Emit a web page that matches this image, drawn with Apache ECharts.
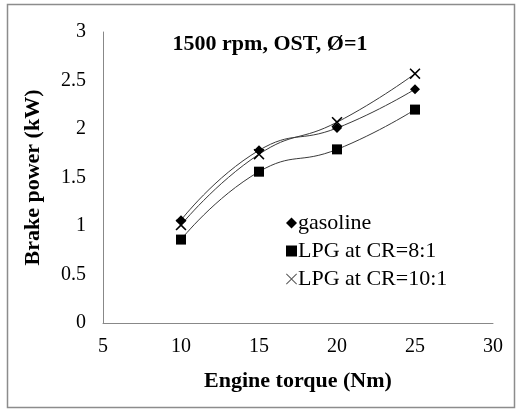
<!DOCTYPE html>
<html>
<head>
<meta charset="utf-8">
<script src="https://cdn.jsdelivr.net/npm/echarts@6/dist/echarts.min.js"></script>
<style>html,body{margin:0;padding:0;background:#fff}#c{width:519px;height:411px}</style>
</head>
<body>
<div id="c"></div>
<script>
const torque = [10, 15, 20, 25];
const gasoline = [1.06, 1.78, 2.01, 2.41];
const lpg8 = [0.86, 1.56, 1.79, 2.20];
const lpg10 = [1.01, 1.74, 2.07, 2.57];
const seriesNames = ['gasoline', 'LPG at CR=8:1', 'LPG at CR=10:1'];
const titleText = '1500 rpm, OST, Ø=1';
const xName = 'Engine torque (Nm)';
const yName = 'Brake power (kW)';

const FONT = '"Liberation Serif", "Times New Roman", serif';
const crossPath = 'path://M0,1 L1,0 L5,4 L9,0 L10,1 L6,5 L10,9 L9,10 L5,6 L1,10 L0,9 L4,5 Z';
const thinCross = 'path://M0,0.6 L0.6,0 L5,4.4 L9.4,0 L10,0.6 L5.6,5 L10,9.4 L9.4,10 L5,5.6 L0.6,10 L0,9.4 L4.4,5 Z';
const pairs = arr => torque.map((t, i) => [t, arr[i]]);

const chart = echarts.init(document.getElementById('c'));
chart.setOption({
  animation: false,
  backgroundColor: '#fff',
  textStyle: { fontFamily: FONT },
  graphic: [{
    type: 'rect', shape: { x: 7.5, y: 4.5, width: 507, height: 403 },
    style: { fill: 'none', stroke: '#8c8c8c', lineWidth: 1.5 }, silent: true
  }],
  title: {
    text: titleText, left: 265, top: 28, textAlign: 'center',
    textStyle: { fontFamily: FONT, fontWeight: 'bold', fontSize: 22, color: '#000' }
  },
  grid: { left: 103, right: 26, top: 32, bottom: 88, containLabel: false },
  legend: {
    orient: 'vertical', left: 281, top: 207, itemGap: 6,
    itemWidth: 11, itemHeight: 11,
    textStyle: { fontFamily: FONT, fontSize: 22, color: '#000', padding: [0,0,0,-4] },
    data: [
      { name: seriesNames[0], icon: 'diamond', itemStyle: { color: '#000' } },
      { name: seriesNames[1], icon: 'rect', itemStyle: { color: '#000' } },
      { name: seriesNames[2], icon: thinCross, itemStyle: { color: '#555' } }
    ]
  },
  xAxis: {
    type: 'value', min: 5, max: 30, interval: 5,
    name: xName, nameLocation: 'middle', nameGap: 47,
    nameTextStyle: { fontFamily: FONT, fontWeight: 'bold', fontSize: 22, color: '#000' },
    axisLine: { show: true, lineStyle: { color: '#888', width: 1 } },
    axisTick: { show: false },
    splitLine: { show: false },
    axisLabel: { fontFamily: FONT, fontSize: 20, color: '#000', margin: 14 }
  },
  yAxis: {
    type: 'value', min: 0, max: 3, interval: 0.5,
    name: yName, nameLocation: 'middle', nameGap: 59, nameRotate: 90,
    nameTextStyle: { fontFamily: FONT, fontWeight: 'bold', fontSize: 22, color: '#000' },
    axisLine: { show: true, lineStyle: { color: '#888', width: 1 } },
    axisTick: { show: false },
    splitLine: { show: false },
    axisLabel: { fontFamily: FONT, fontSize: 20, color: '#000', margin: 17 }
  },
  series: [
    { name: seriesNames[0], type: 'line', smooth: 0.5, data: pairs(gasoline),
      symbol: 'diamond', symbolSize: 10,
      itemStyle: { color: '#000' }, lineStyle: { color: '#3a3a3a', width: 1 } },
    { name: seriesNames[1], type: 'line', smooth: 0.5, data: pairs(lpg8),
      symbol: 'rect', symbolSize: 10,
      itemStyle: { color: '#000' }, lineStyle: { color: '#3a3a3a', width: 1 } },
    { name: seriesNames[2], type: 'line', smooth: 0.5, data: pairs(lpg10),
      symbol: crossPath, symbolSize: 11,
      itemStyle: { color: '#000' }, lineStyle: { color: '#3a3a3a', width: 1 } }
  ]
});
</script>
</body>
</html>
